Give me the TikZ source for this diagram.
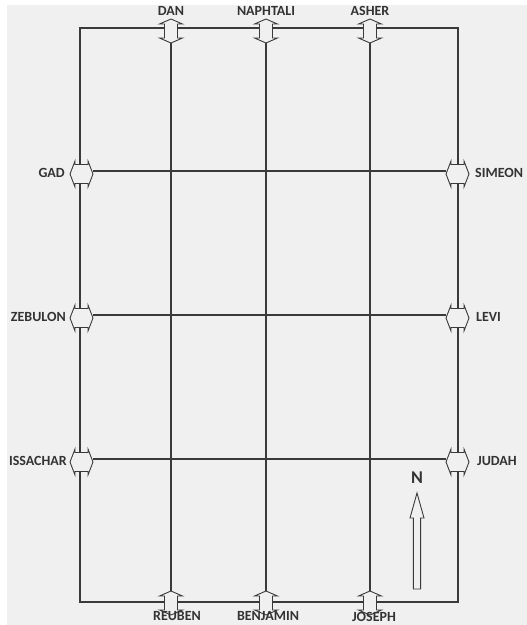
\documentclass[tikz,border=0pt]{standalone}
\usepackage{fontspec}
\setmainfont{Carlito}
\definecolor{bg}{HTML}{F0F0F0}
\definecolor{ln}{HTML}{3A3A3A}
\definecolor{tx}{HTML}{333333}
\tikzset{
  grid/.style={draw=ln, line width=1.1pt},
  gatedraw/.style={draw=ln, fill=bg, line width=0.9pt, line join=miter},
  vslot/.style={inner sep=0pt, minimum width=23pt, minimum height=24pt},
  hslot/.style={inner sep=0pt, minimum width=23pt, minimum height=26pt},
  vg/.pic={\path[gatedraw] (0,-12) -- (11.5,-7) -- (6.5,-7) -- (6.5,7) -- (11.5,7)
      -- (0,12) -- (-11.5,7) -- (-6.5,7) -- (-6.5,-7) -- (-11.5,-7) -- cycle;},
  hg/.pic={\path[gatedraw] (-11.5,0) -- (-6.5,-13) -- (-6.5,-9.5) -- (6.5,-9.5)
      -- (6.5,-13) -- (11.5,0) -- (6.5,13) -- (6.5,9.5) -- (-6.5,9.5)
      -- (-6.5,13) -- cycle;},
  lab/.style={text=tx, font=\fontsize{14}{16}\selectfont\bfseries, inner sep=0pt}
}
\begin{document}
\begin{tikzpicture}[x=1pt,y=-1pt]
\useasboundingbox (0,0) rectangle (527,625);
\fill[white] (0,0) rectangle (527,625);
\fill[bg] (7,5) rectangle (527,625);

\coordinate (nw) at (80,28);
\coordinate (se) at (458,602);

% gate slots (named nodes)
\node[vslot] (dan) at (171,31) {};
\node[vslot] (naphtali) at (266,31) {};
\node[vslot] (asher) at (370,31) {};
\node[vslot] (reuben) at (171,603) {};
\node[vslot] (benjamin) at (266,603) {};
\node[vslot] (joseph) at (370,603) {};
\node[hslot] (gad) at (81.5,174) {};
\node[hslot] (zebulon) at (81.5,318) {};
\node[hslot] (issachar) at (81.5,462) {};
\node[hslot] (simeon) at (457.5,174) {};
\node[hslot] (levi) at (457.5,318) {};
\node[hslot] (judah) at (457.5,462) {};

% camp outline and streets
\draw[grid] (nw) rectangle (se);
\draw[grid] (dan) -- (reuben);
\draw[grid] (naphtali) -- (benjamin);
\draw[grid] (asher) -- (joseph);
\draw[grid] ([yshift=3pt]gad.east) -- ([yshift=3pt]simeon.west);
\draw[grid] ([yshift=3pt]zebulon.east) -- ([yshift=3pt]levi.west);
\draw[grid] ([yshift=3pt]issachar.east) -- ([yshift=3pt]judah.west);

% gate arrows
\foreach \g in {dan,naphtali,asher,reuben,benjamin,joseph} \pic at (\g.center) {vg};
\foreach \g in {gad,zebulon,issachar,simeon,levi,judah} \pic at (\g.center) {hg};

% labels
\node[lab] (tdan) at (171,11) {DAN};
\node[lab] (tnaphtali) at (266,11) {NAPHTALI};
\node[lab] (tasher) at (370,11) {ASHER};
\node[lab] (treuben) at (177,616.5) {REUBEN};
\node[lab] (tbenjamin) at (268,616.5) {BENJAMIN};
\node[lab] (tjoseph) at (374,616.5) {JOSEPH};
\node[lab, anchor=east] (tgad) at (65,173) {GAD};
\node[lab, anchor=east] (tzebulon) at (66,317) {ZEBULON};
\node[lab, anchor=east] (tissachar) at (67,461) {ISSACHAR};
\node[lab, anchor=west] (tsimeon) at (475,173) {SIMEON};
\node[lab, anchor=west] (tlevi) at (476,317) {LEVI};
\node[lab, anchor=west] (tjudah) at (477,461) {JUDAH};

% north arrow
\node[text=tx, font=\fontsize{18}{20}\selectfont\bfseries, inner sep=0pt] (nlabel) at (417,478) {N};
\coordinate (ntip) at (417,493);
\path[gatedraw] (ntip) -- ++(7,25) -- ++(-3.4,0) -- ++(0,71) -- ++(-7.2,0)
   -- ++(0,-71) -- ++(-3.4,0) -- cycle;
\end{tikzpicture}
\end{document}
